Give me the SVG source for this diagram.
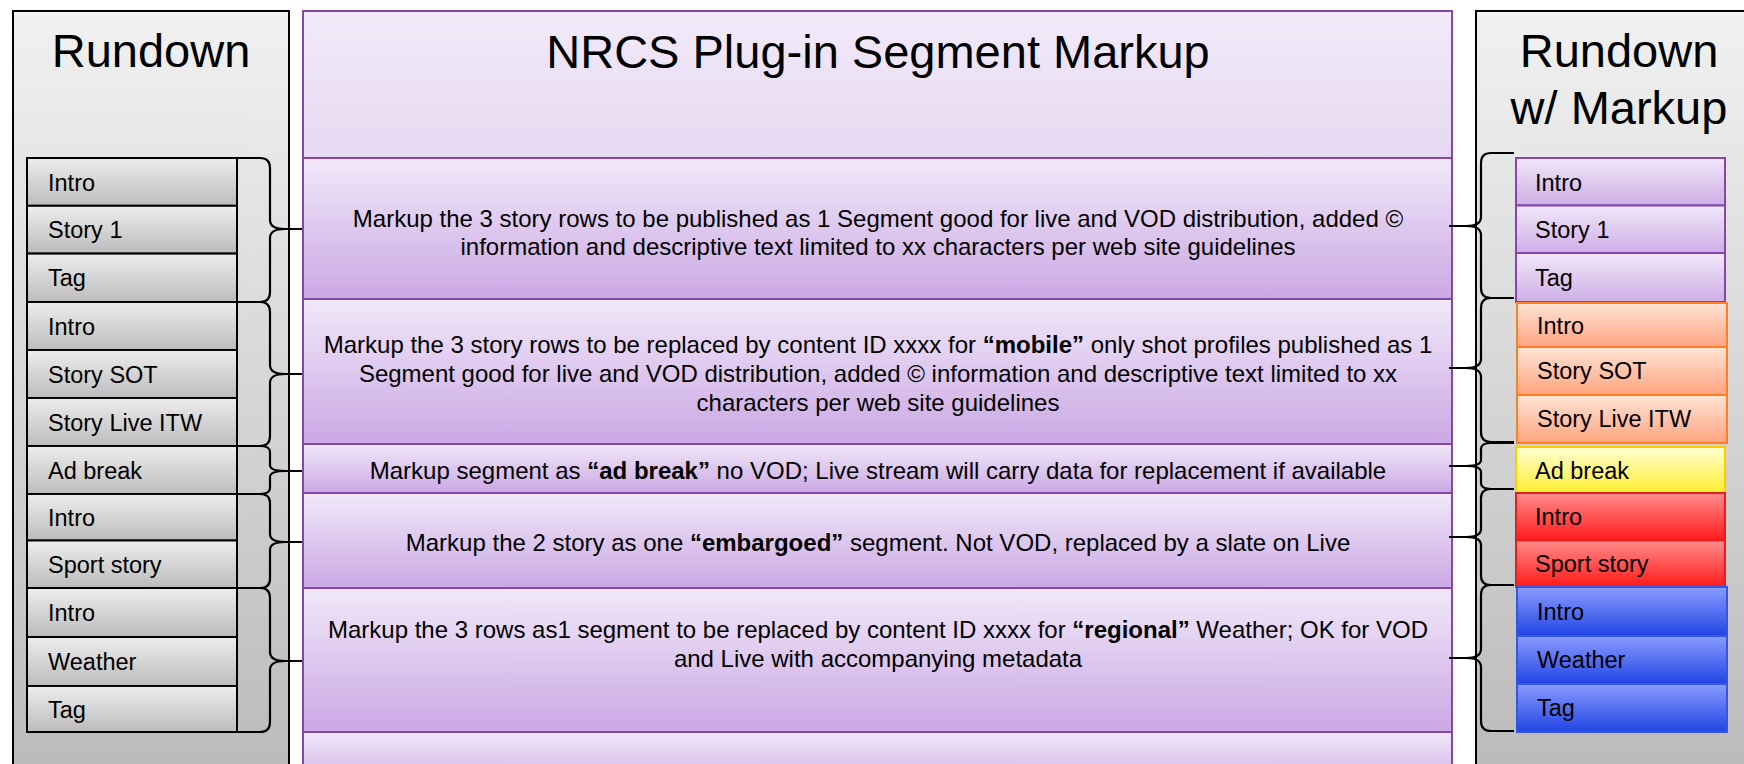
<svg xmlns="http://www.w3.org/2000/svg" width="1744" height="764" viewBox="0 0 1744 764">
<defs>
<linearGradient id="gPanel" x1="0" y1="0" x2="0" y2="1"><stop offset="0" stop-color="#f1f1f1"/><stop offset="1" stop-color="#b9b9b9"/></linearGradient>
<linearGradient id="gRow" x1="0" y1="0" x2="0" y2="1"><stop offset="0" stop-color="#ededed"/><stop offset="1" stop-color="#bcbcbc"/></linearGradient>
<linearGradient id="gTitle" x1="0" y1="0" x2="0" y2="1"><stop offset="0" stop-color="#f2eaf9"/><stop offset="1" stop-color="#e6d8f1"/></linearGradient>
<linearGradient id="gMid" x1="0" y1="0" x2="0" y2="1"><stop offset="0" stop-color="#f1e8f9"/><stop offset="1" stop-color="#cba8e4"/></linearGradient>
<linearGradient id="gPur" x1="0" y1="0" x2="0" y2="1"><stop offset="0" stop-color="#f1e7f9"/><stop offset="1" stop-color="#ceaee6"/></linearGradient>
<linearGradient id="gOra" x1="0" y1="0" x2="0" y2="1"><stop offset="0" stop-color="#ffe4d7"/><stop offset="1" stop-color="#ffa47f"/></linearGradient>
<linearGradient id="gYel" x1="0" y1="0" x2="0" y2="1"><stop offset="0" stop-color="#ffffd2"/><stop offset="1" stop-color="#ffee30"/></linearGradient>
<linearGradient id="gRed" x1="0" y1="0" x2="0" y2="1"><stop offset="0" stop-color="#ff8c8c"/><stop offset="1" stop-color="#ff1a1a"/></linearGradient>
<linearGradient id="gBlu" x1="0" y1="0" x2="0" y2="1"><stop offset="0" stop-color="#8a9cff"/><stop offset="1" stop-color="#2144e4"/></linearGradient>
</defs>
<style>
text{font-family:"Liberation Sans",Arial,Helvetica,sans-serif;fill:#000}
.ttl{font-size:47px;text-anchor:middle}
.row{font-size:23.5px}
.mt{font-size:24px;text-anchor:middle}
.b{font-weight:bold}
.panel{fill:url(#gPanel);stroke:#000;stroke-width:2}
.lr{fill:url(#gRow);stroke:#000;stroke-width:2}
.mr{fill:url(#gMid);stroke:#8446a9;stroke-width:2}
.pur{fill:url(#gPur);stroke:#8446b0;stroke-width:2}
.ora{fill:url(#gOra);stroke:#ff7f27;stroke-width:2}
.yel{fill:url(#gYel);stroke:#ffcc00;stroke-width:2}
.red{fill:url(#gRed);stroke:#e32020;stroke-width:2}
.blu{fill:url(#gBlu);stroke:#3456e0;stroke-width:2}
.br{fill:none;stroke:#000;stroke-width:2.2}
</style>
<rect width="1744" height="764" fill="#fff"/>

<g id="left-panel">
<rect class="panel" x="13" y="11" width="276" height="790"/>
<text class="ttl" x="151" y="67">Rundown</text>
</g>
<g id="left-rows">
<g id="l1"><rect class="lr" x="27" y="158" width="210" height="47.8"/><text class="row" x="48" y="190.5">Intro</text></g>
<g id="l2"><rect class="lr" x="27" y="205.8" width="210" height="47.8"/><text class="row" x="48" y="238.3">Story 1</text></g>
<g id="l3"><rect class="lr" x="27" y="253.6" width="210" height="48.4"/><text class="row" x="48" y="286.3">Tag</text></g>
<g id="l4"><rect class="lr" x="27" y="302" width="210" height="48"/><text class="row" x="48" y="334.5">Intro</text></g>
<g id="l5"><rect class="lr" x="27" y="350" width="210" height="48"/><text class="row" x="48" y="382.5">Story SOT</text></g>
<g id="l6"><rect class="lr" x="27" y="398" width="210" height="48"/><text class="row" x="48" y="430.5">Story Live ITW</text></g>
<g id="l7"><rect class="lr" x="27" y="446" width="210" height="48"/><text class="row" x="48" y="478.5">Ad break</text></g>
<g id="l8"><rect class="lr" x="27" y="494" width="210" height="46.5"/><text class="row" x="48" y="525.7">Intro</text></g>
<g id="l9"><rect class="lr" x="27" y="540.5" width="210" height="47.5"/><text class="row" x="48" y="572.7">Sport story</text></g>
<g id="l10"><rect class="lr" x="27" y="588" width="210" height="49"/><text class="row" x="48" y="621">Intro</text></g>
<g id="l11"><rect class="lr" x="27" y="637" width="210" height="49"/><text class="row" x="48" y="670">Weather</text></g>
<g id="l12"><rect class="lr" x="27" y="686" width="210" height="46"/><text class="row" x="48" y="717.5">Tag</text></g>
</g>

<g id="middle-panel">
<g id="m0"><rect x="303" y="11" width="1149" height="147" fill="url(#gTitle)" stroke="#8446a9" stroke-width="2"/><text class="ttl" x="878" y="68">NRCS Plug-in Segment Markup</text></g>
<g id="m1"><rect class="mr" x="303" y="158" width="1149" height="141"/>
<text class="mt" x="878" y="227">Markup the 3 story rows to be published as 1 Segment good for live and VOD distribution, added ©</text>
<text class="mt" x="878" y="255">information and descriptive text limited to xx characters per web site guidelines</text></g>
<g id="m2"><rect class="mr" x="303" y="299" width="1149" height="145"/>
<text class="mt" x="878" y="353">Markup the 3 story rows to be replaced by content ID xxxx for <tspan class="b">“mobile”</tspan> only shot profiles published as 1</text>
<text class="mt" x="878" y="382">Segment good for live and VOD distribution, added © information and descriptive text limited to xx</text>
<text class="mt" x="878" y="411">characters per web site guidelines</text></g>
<g id="m3"><rect class="mr" x="303" y="444" width="1149" height="49"/>
<text class="mt" x="878" y="479">Markup segment as <tspan class="b">“ad break”</tspan> no VOD; Live stream will carry data for replacement if available</text></g>
<g id="m4"><rect class="mr" x="303" y="493" width="1149" height="95"/>
<text class="mt" x="878" y="551">Markup the 2 story as one <tspan class="b">“embargoed”</tspan> segment. Not VOD, replaced by a slate on Live</text></g>
<g id="m5"><rect class="mr" x="303" y="588" width="1149" height="144"/>
<text class="mt" x="878" y="638">Markup the 3 rows as1 segment to be replaced by content ID xxxx for <tspan class="b">“regional”</tspan> Weather; OK for VOD</text>
<text class="mt" x="878" y="667">and Live with accompanying metadata</text></g>
<g id="m6"><rect class="mr" x="303" y="732" width="1149" height="60"/></g>
</g>

<g id="right-panel">
<rect class="panel" x="1476" y="11" width="290" height="790"/>
<text class="ttl" x="1619" y="67">Rundown</text>
<text class="ttl" x="1619" y="124">w/ Markup</text>
</g>
<g id="right-rows">
<g id="r1"><rect class="pur" x="1516" y="158" width="209" height="47.5"/><text class="row" x="1535" y="190.5">Intro</text></g>
<g id="r2"><rect class="pur" x="1516" y="205.5" width="209" height="47.5"/><text class="row" x="1535" y="238">Story 1</text></g>
<g id="r3"><rect class="pur" x="1516" y="253" width="209" height="49"/><text class="row" x="1535" y="286">Tag</text></g>
<g id="r4"><rect class="ora" x="1517" y="303" width="210" height="44"/><text class="row" x="1537" y="334">Intro</text></g>
<g id="r5"><rect class="ora" x="1517" y="347" width="210" height="48"/><text class="row" x="1537" y="379">Story SOT</text></g>
<g id="r6"><rect class="ora" x="1517" y="395" width="210" height="48"/><text class="row" x="1537" y="427">Story Live ITW</text></g>
<g id="r7"><rect class="yel" x="1516" y="447" width="209" height="46"/><text class="row" x="1535" y="478.5">Ad break</text></g>
<g id="r8"><rect class="red" x="1516" y="493" width="209" height="47.5"/><text class="row" x="1535" y="525">Intro</text></g>
<g id="r9"><rect class="red" x="1516" y="540.5" width="209" height="46.5"/><text class="row" x="1535" y="572">Sport story</text></g>
<g id="r10"><rect class="blu" x="1517" y="587" width="210" height="49"/><text class="row" x="1537" y="620">Intro</text></g>
<g id="r11"><rect class="blu" x="1517" y="636" width="210" height="48"/><text class="row" x="1537" y="668">Weather</text></g>
<g id="r12"><rect class="blu" x="1517" y="684" width="210" height="48"/><text class="row" x="1537" y="716">Tag</text></g>
</g>

<g id="connectors">
<path class="br" d="M237,158 L260,158 C266,158 270,161 270,168 L270,220 C270,226 274,229 285,229 L302,229 M285,229 C274,229 270,232 270,238 L270,292 C270,299 266,302 260,302 L237,302"/>
<path class="br" d="M237,302 L260,302 C266,302 270,305 270,312 L270,365 C270,371 274,374 285,374 L302,374 M285,374 C274,374 270,377 270,383 L270,436 C270,443 266,446 260,446 L237,446"/>
<path class="br" d="M237,446 L260,446 C266,446 270,448 270,452 L270,465 C270,469 274,471 285,471 L302,471 M285,471 C274,471 270,473 270,477 L270,488 C270,492 266,494 260,494 L237,494"/>
<path class="br" d="M237,494 L260,494 C266,494 270,497 270,503 L270,534 C270,539 274,542 285,542 L302,542 M285,542 C274,542 270,545 270,550 L270,579 C270,585 266,588 260,588 L237,588"/>
<path class="br" d="M237,588 L260,588 C266,588 270,591 270,598 L270,652 C270,658 274,661 285,661 L302,661 M285,661 C274,661 270,664 270,670 L270,722 C270,729 266,732 260,732 L237,732"/>
<path class="br" d="M1514,153 L1491,153 C1485,153 1481,156 1481,163 L1481,217 C1481,223 1477,226 1466,226 L1449,226 M1466,226 C1477,226 1481,229 1481,235 L1481,288 C1481,295 1485,298 1491,298 L1514,298"/>
<path class="br" d="M1514,298 L1491,298 C1485,298 1481,301 1481,308 L1481,359 C1481,365 1477,368 1466,368 L1449,368 M1466,368 C1477,368 1481,371 1481,377 L1481,432 C1481,439 1485,442 1491,442 L1514,442"/>
<path class="br" d="M1514,443 L1491,443 C1485,443 1481,445 1481,449 L1481,460 C1481,464 1477,466 1466,466 L1449,466 M1466,466 C1477,466 1481,468 1481,472 L1481,483 C1481,487 1485,489 1491,489 L1514,489"/>
<path class="br" d="M1514,489 L1491,489 C1485,489 1481,492 1481,498 L1481,529 C1481,534 1477,537 1466,537 L1449,537 M1466,537 C1477,537 1481,540 1481,545 L1481,576 C1481,582 1485,585 1491,585 L1514,585"/>
<path class="br" d="M1514,585 L1491,585 C1485,585 1481,588 1481,595 L1481,649 C1481,655 1477,658 1466,658 L1449,658 M1466,658 C1477,658 1481,661 1481,667 L1481,721 C1481,728 1485,731 1491,731 L1514,731"/>
</g>
</svg>
